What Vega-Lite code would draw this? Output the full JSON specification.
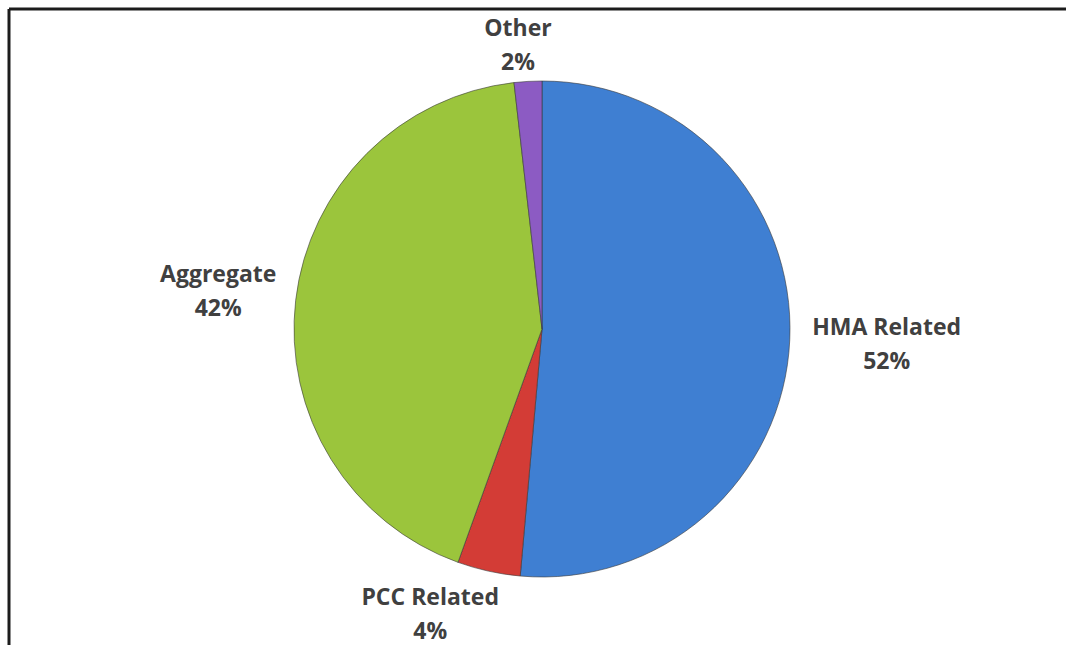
{
  "$schema": "https://vega.github.io/schema/vega-lite/v6.json",
  "width": 1068,
  "height": 647,
  "autosize": {"type": "fit", "contains": "padding"},
  "padding": {"left": 7, "top": 7, "right": 0, "bottom": 0},
  "background": "white",
  "config": {"view": {"stroke": null}},
  "data": {
    "values": [
      {"category": "HMA Related", "share": 51.4, "rank": 1, "label": "HMA Related\n52%"},
      {"category": "PCC Related", "share": 4.1, "rank": 2, "label": "PCC Related\n4%"},
      {"category": "Aggregate", "share": 42.7, "rank": 3, "label": "Aggregate\n42%"},
      {"category": "Other", "share": 1.8, "rank": 4, "label": "Other\n2%"}
    ]
  },
  "layer": [
    {
      "data": {"values": [{}]},
      "mark": {"type": "rule", "color": "#1c1c1c", "strokeWidth": 3},
      "encoding": {"y": {"value": 0}}
    },
    {
      "data": {"values": [{}]},
      "mark": {"type": "rule", "color": "#1c1c1c", "strokeWidth": 3},
      "encoding": {"x": {"value": 0}}
    },
    {
      "mark": {
        "type": "arc",
        "outerRadius": 248,
        "stroke": "#3a3a3a",
        "strokeOpacity": 0.6,
        "strokeWidth": 1,
        "x": {"expr": "width/2 + 4.5"},
        "y": {"expr": "height/2 + 2"}
      },
      "encoding": {
        "theta": {"field": "share", "type": "quantitative", "stack": true},
        "order": {"field": "rank", "type": "quantitative"},
        "color": {
          "field": "category",
          "type": "nominal",
          "scale": {
            "domain": ["HMA Related", "PCC Related", "Aggregate", "Other"],
            "range": ["#3F7FD2", "#D33C36", "#9BC53C", "#8C5BC3"]
          },
          "legend": null
        }
      }
    },
    {
      "mark": {
        "type": "text",
        "font": "Open Sans",
        "fontSize": 23,
        "fontWeight": "bold",
        "color": "#404040",
        "lineBreak": "\n",
        "lineHeight": 34,
        "align": "center",
        "baseline": "middle",
        "x": {"expr": "width/2 + 4.5"},
        "y": {"expr": "height/2 + 2"},
        "dy": -16,
        "radius": {"expr": "datum.category === 'HMA Related' ? 345 : datum.category === 'PCC Related' ? 292 : datum.category === 'Aggregate' ? 326 : 284"},
        "dx": {"expr": "datum.category === 'PCC Related' ? -49 : datum.category === 'Other' ? -8 : 0"}
      },
      "encoding": {
        "theta": {"field": "share", "type": "quantitative", "stack": true},
        "order": {"field": "rank", "type": "quantitative"},
        "detail": {"field": "category", "type": "nominal"},
        "text": {"field": "label", "type": "nominal"}
      }
    }
  ]
}
